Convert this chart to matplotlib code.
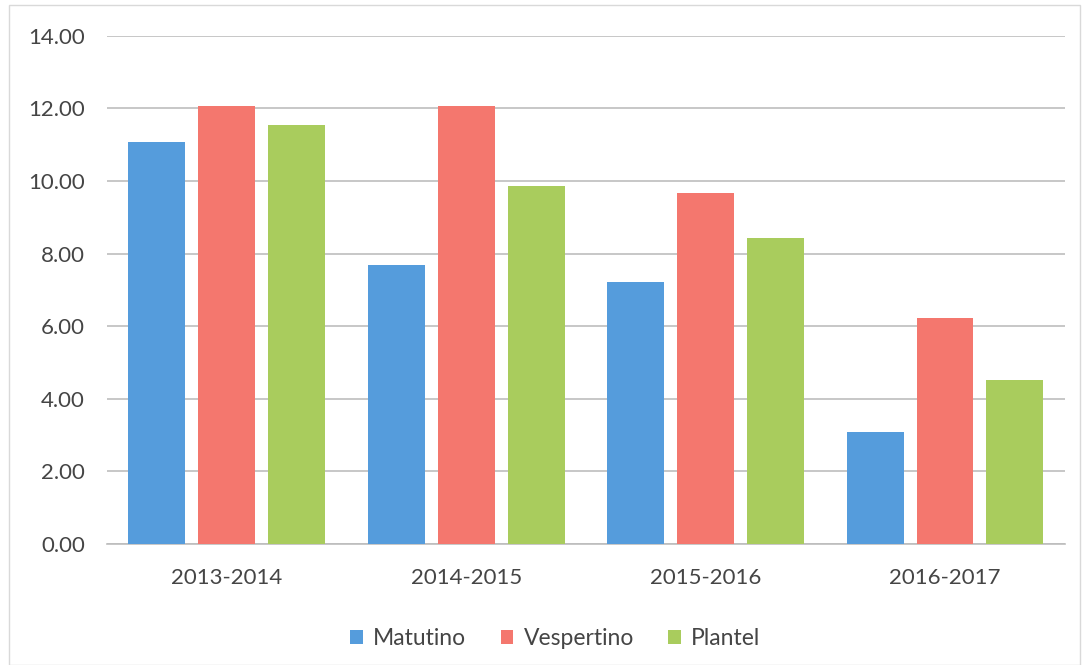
import matplotlib
matplotlib.use("Agg")
import matplotlib.pyplot as plt
import numpy as np
from matplotlib.patches import Rectangle

categories = ["2013-2014", "2014-2015", "2015-2016", "2016-2017"]
series_names = ["Matutino", "Vespertino", "Plantel"]
matutino = [11.08, 7.70, 7.22, 3.08]
vespertino = [12.06, 12.06, 9.68, 6.22]
plantel = [11.55, 9.87, 8.42, 4.52]
yticks = [0, 2, 4, 6, 8, 10, 12, 14]

colors = ["#559CDC", "#F4776E", "#A9CC5D"]
text_color = "#454545"

plt.rcParams['font.family'] = ['Lato', 'DejaVu Sans']

fig = plt.figure(figsize=(10.82, 6.65), dpi=100)
ax = fig.add_axes([0.099, 0.182, 0.885, 0.764])

x = np.arange(len(categories))
width = 0.238
step = 0.292
for i, (vals, name) in enumerate(zip([matutino, vespertino, plantel], series_names)):
    ax.bar(x + (i - 1) * step, vals, width=width, color=colors[i], label=name, zorder=3)

ax.set_ylim(0, 14)
ax.set_xlim(-0.5, len(categories) - 0.5)
ax.set_yticks(yticks)
ax.set_yticklabels([f"{v:.2f}" for v in yticks])
ax.set_xticks(x)
ax.set_xticklabels(categories)
ax.yaxis.grid(True, color="#BDBDBD", linewidth=1.2, zorder=0)
ax.set_axisbelow(True)
for s in ["top", "right", "left"]:
    ax.spines[s].set_visible(False)
ax.spines["bottom"].set_color("#BDBDBD")
ax.spines["bottom"].set_linewidth(1.2)
ax.tick_params(axis="both", length=0, labelsize=16, colors=text_color)
ax.tick_params(axis="y", pad=16)
ax.tick_params(axis="x", pad=17)

leg = ax.legend(loc="upper center", bbox_to_anchor=(0.468, -0.125), ncol=3, frameon=False,
                fontsize=16.5, handlelength=0.55, handleheight=0.55, handletextpad=0.45,
                columnspacing=1.5)
for t in leg.get_texts():
    t.set_color(text_color)

fig.patches.append(Rectangle((0.008, 0.0), 0.99, 0.992, transform=fig.transFigure,
                             fill=False, edgecolor="#D9D9D9", linewidth=1.0))

fig.savefig("out.png", dpi=100, facecolor="white")
